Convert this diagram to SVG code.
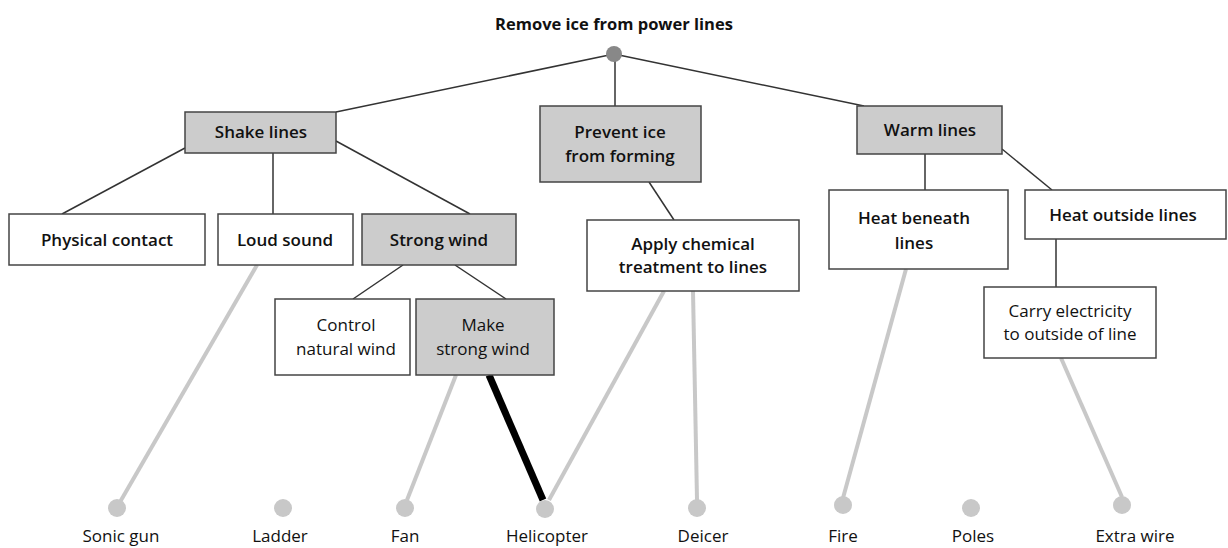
<svg xmlns="http://www.w3.org/2000/svg" width="1228" height="548" viewBox="0 0 1228 548">
<style>
.box{stroke:#444;stroke-width:1.5}
.g{fill:#cccccc}
.w{fill:#ffffff}
text{font-family:"Open Sans","Noto Sans","Liberation Sans",sans-serif;font-size:17px;fill:#111;text-anchor:middle}
.b{font-weight:600}
.t{font-weight:700;font-size:16.5px}
.c{stroke:#333;stroke-width:1.5;fill:none}
.s{stroke:#c8c8c8;stroke-width:4;fill:none}
.k{stroke:#000;stroke-width:7;fill:none}
.dot{fill:#c8c8c8}
</style>
<rect width="1228" height="548" fill="#fff"/>
<g id="connectors">
<line class="c" x1="614" y1="54" x2="336" y2="112"/>
<line class="c" x1="615" y1="54" x2="615" y2="106"/>
<line class="c" x1="614" y1="54" x2="864" y2="106"/>
<line class="c" x1="185" y1="148" x2="62" y2="214"/>
<line class="c" x1="273" y1="153" x2="273" y2="214"/>
<line class="c" x1="336" y1="141" x2="470" y2="214"/>
<line class="c" x1="649" y1="182" x2="674" y2="220"/>
<line class="c" x1="925" y1="154" x2="925" y2="190"/>
<line class="c" x1="1002" y1="149" x2="1052" y2="190"/>
<line class="c" x1="1056" y1="239" x2="1056" y2="287"/>
<line class="c" x1="403" y1="265" x2="353" y2="299"/>
<line class="c" x1="455" y1="265" x2="506" y2="299"/>
<line class="s" x1="257" y1="265" x2="120" y2="502"/>
<line class="s" x1="456" y1="375" x2="407" y2="500"/>
<line class="s" x1="664" y1="291" x2="549" y2="500"/>
<line class="s" x1="693" y1="291" x2="697" y2="500"/>
<line class="s" x1="906" y1="269" x2="843" y2="498"/>
<line class="s" x1="1061" y1="358" x2="1122" y2="497"/>
<line class="k" x1="489" y1="375" x2="543" y2="500"/>
</g>
<g id="root">
<text class="t" x="614" y="30">Remove ice from power lines</text>
<circle cx="614" cy="54" r="8" fill="#888"/>
</g>
<g id="shake"><rect class="box g" x="185" y="112" width="151" height="41"/><text class="b" x="261" y="138">Shake lines</text></g>
<g id="prevent"><rect class="box g" x="540" y="106" width="161" height="76"/><text class="b" x="620" y="138">Prevent ice</text><text class="b" x="620" y="162">from forming</text></g>
<g id="warm"><rect class="box g" x="857" y="106" width="145" height="48"/><text class="b" x="930" y="136">Warm lines</text></g>
<g id="physical"><rect class="box w" x="9" y="214" width="196" height="51"/><text class="b" x="107" y="246">Physical contact</text></g>
<g id="loud"><rect class="box w" x="218" y="214" width="135" height="51"/><text class="b" x="285" y="246">Loud sound</text></g>
<g id="strongwind"><rect class="box g" x="362" y="214" width="154" height="51"/><text class="b" x="439" y="246">Strong wind</text></g>
<g id="apply"><rect class="box w" x="587" y="220" width="212" height="71"/><text class="b" x="693" y="250">Apply chemical</text><text class="b" x="693" y="273">treatment to lines</text></g>
<g id="beneath"><rect class="box w" x="829" y="190" width="179" height="79"/><text class="b" x="914" y="224">Heat beneath</text><text class="b" x="914" y="249">lines</text></g>
<g id="outside"><rect class="box w" x="1025" y="190" width="201" height="49"/><text class="b" x="1123" y="221">Heat outside lines</text></g>
<g id="control"><rect class="box w" x="275" y="299" width="135" height="76"/><text x="346" y="331">Control</text><text x="346" y="355">natural wind</text></g>
<g id="make"><rect class="box g" x="416" y="299" width="138" height="76"/><text x="483" y="331">Make</text><text x="483" y="355">strong wind</text></g>
<g id="carry"><rect class="box w" x="984" y="287" width="172" height="71"/><text x="1070" y="317">Carry electricity</text><text x="1070" y="340">to outside of line</text></g>
<g id="sonic"><circle class="dot" cx="117" cy="508" r="9"/><text x="121" y="542">Sonic gun</text></g>
<g id="ladder"><circle class="dot" cx="283" cy="508" r="9"/><text x="280" y="542">Ladder</text></g>
<g id="fan"><circle class="dot" cx="405" cy="508" r="9"/><text x="405" y="542">Fan</text></g>
<g id="helicopter"><circle class="dot" cx="545" cy="509" r="9"/><text x="547" y="542">Helicopter</text></g>
<g id="deicer"><circle class="dot" cx="697" cy="508" r="9"/><text x="703" y="542">Deicer</text></g>
<g id="fire"><circle class="dot" cx="843" cy="505" r="9"/><text x="843" y="542">Fire</text></g>
<g id="poles"><circle class="dot" cx="971" cy="508" r="9"/><text x="973" y="542">Poles</text></g>
<g id="extrawire"><circle class="dot" cx="1122" cy="505" r="9"/><text x="1135" y="542">Extra wire</text></g>
</svg>
